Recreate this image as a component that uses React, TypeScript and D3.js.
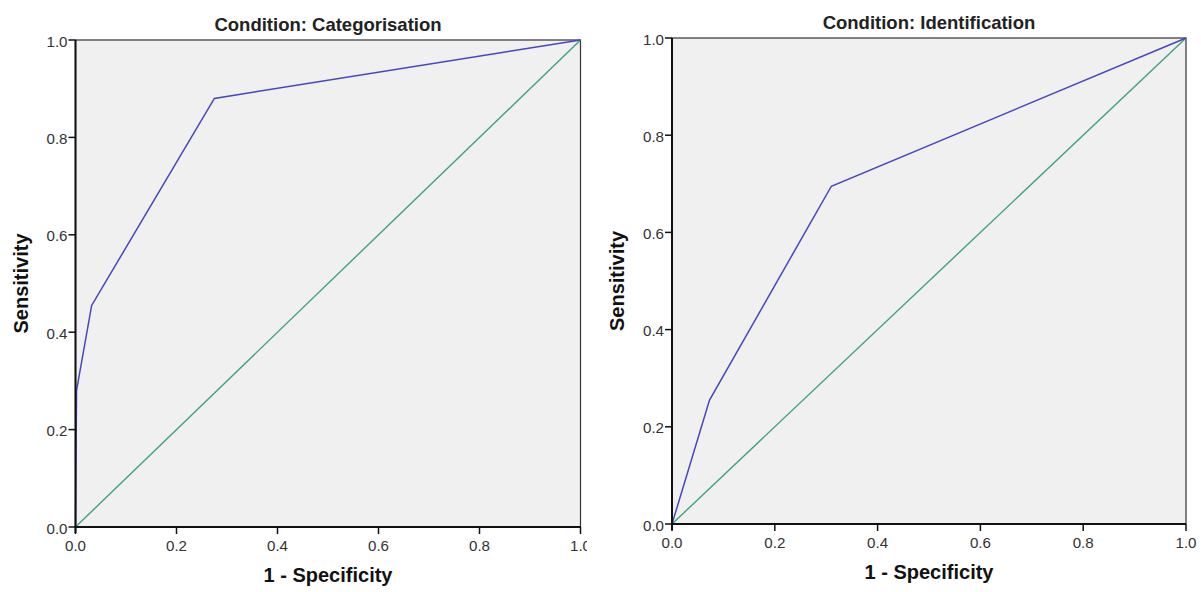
import React from "react";
import * as d3 from "d3";

// ROC points (1 - specificity, sensitivity)
const catFpr = [0, 0.002, 0.032, 0.275, 1];
const catTpr = [0, 0.28, 0.455, 0.88, 1];
const idFpr = [0, 0.073, 0.31, 1];
const idTpr = [0, 0.255, 0.695, 1];
const refLine = [0, 1];
const ticks = [0, 0.2, 0.4, 0.6, 0.8, 1.0];

const panels = [
  { title: "Condition: Categorisation", fpr: catFpr, tpr: catTpr, x0: 75.5, x1: 580.5, y0: 527, y1: 40, clip: 587 },
  { title: "Condition: Identification", fpr: idFpr, tpr: idTpr, x0: 672, x1: 1186, y0: 524, y1: 38, clip: 1201 },
];

const FONT = "'Liberation Sans', Arial, sans-serif";
const fmt = d3.format(".1f");

function Panel({ p, i }: { p: any; i: number }) {
  const x = d3.scaleLinear().domain([0, 1]).range([p.x0, p.x1]);
  const y = d3.scaleLinear().domain([0, 1]).range([p.y0, p.y1]);
  const line = d3.line<number>().x((d, k) => x(p.fpr[k])).y((d, k) => y(p.tpr[k]));
  const diag = d3.line<number>().x((d) => x(d)).y((d) => y(d));
  const cx = (p.x0 + p.x1) / 2;
  const cy = (p.y0 + p.y1) / 2;
  return (
    <g clipPath={`url(#clip${i})`}>
      <defs>
        <clipPath id={`clip${i}`}>
          <rect x={p.x0 - 80} y={0} width={p.clip - (p.x0 - 80)} height={592} />
        </clipPath>
      </defs>
      <text x={cx} y={p.y1 - 9} textAnchor="middle" fontFamily={FONT} fontWeight="bold" fontSize={18.5} fill="#222">
        {p.title}
      </text>
      <rect x={p.x0} y={p.y1} width={p.x1 - p.x0} height={p.y0 - p.y1} fill="#f0f0f0" stroke="#333" strokeWidth={1.2} />
      <path d={diag(refLine) || ""} fill="none" stroke="#3aa57c" strokeWidth={1.4} />
      <path d={line(p.fpr) || ""} fill="none" stroke="#4646c0" strokeWidth={1.5} />
      <line x1={p.x0} x2={p.x0} y1={p.y1} y2={p.y0 + 6} stroke="#111" strokeWidth={2} />
      <line x1={p.x0} x2={p.x1} y1={p.y0} y2={p.y0} stroke="#111" strokeWidth={2} />
      {ticks.map((t) => (
        <g key={"x" + t}>
          <line x1={x(t)} x2={x(t)} y1={p.y0} y2={p.y0 + 7} stroke="#111" strokeWidth={1.5} />
          <text
            transform={`translate(${x(t)},${p.y0 + 24}) scale(1.08,1)`}
            textAnchor="middle"
            fontFamily={FONT}
            fontSize={14}
            fill="#333"
          >
            {fmt(t)}
          </text>
        </g>
      ))}
      {ticks.map((t) => (
        <g key={"y" + t}>
          <line x1={p.x0 - 7} x2={p.x0} y1={y(t)} y2={y(t)} stroke="#111" strokeWidth={1.5} />
          <text
            transform={`translate(${p.x0 - 8},${y(t) + 6.5}) scale(1.08,1)`}
            textAnchor="end"
            fontFamily={FONT}
            fontSize={14}
            fill="#333"
          >
            {fmt(t)}
          </text>
        </g>
      ))}
      <text x={cx} y={p.y0 + 55} textAnchor="middle" fontFamily={FONT} fontWeight="bold" fontSize={20} fill="#111">
        1 - Specificity
      </text>
      <text
        transform={`translate(${p.x0 - 48},${cy}) rotate(-90)`}
        textAnchor="middle"
        fontFamily={FONT}
        fontWeight="bold"
        fontSize={20}
        fill="#111"
      >
        Sensitivity
      </text>
    </g>
  );
}

export default function App() {
  return (
    <div style={{ position: "absolute", left: 0, top: 0 }}>
      <svg width={1201} height={592} style={{ display: "block", background: "#fff" }}>
        {panels.map((p, i) => (
          <Panel key={i} p={p} i={i} />
        ))}
      </svg>
    </div>
  );
}
